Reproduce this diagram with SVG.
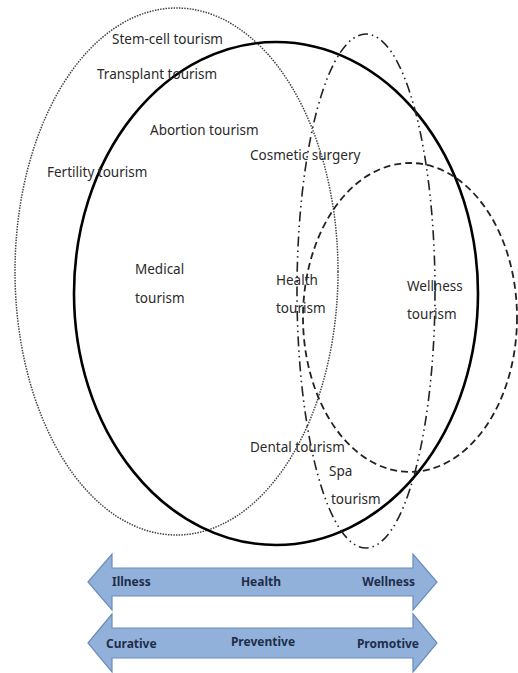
<svg xmlns="http://www.w3.org/2000/svg" width="518" height="673" viewBox="0 0 518 673">
<style>
.lbl{font-family:"Noto Sans","Liberation Sans",sans-serif;font-size:13.5px;fill:#2a2a2a}
.arrow{fill:#92b1da;stroke:#6a8cbb;stroke-width:1.2}
.atxt{font-family:"Noto Sans","Liberation Sans",sans-serif;font-size:12px;font-weight:bold;fill:#1f2d4a}
.e{fill:none}
</style>
<rect width="518" height="673" fill="#fff"/>
<g id="connectors">
<ellipse id="medical-ellipse" class="e" cx="176.5" cy="271.5" rx="161.5" ry="263.5" stroke="#444" stroke-width="1.5" stroke-dasharray="1.5 1.2"/>
<ellipse id="health-ellipse" class="e" cx="276" cy="293.5" rx="202" ry="251.5" stroke="#000" stroke-width="2.6"/>
<ellipse id="spa-ellipse" class="e" cx="366" cy="291" rx="69" ry="257" stroke="#222" stroke-width="1.6" stroke-dasharray="10 4 1.5 4 1.5 4"/>
<ellipse id="wellness-ellipse" class="e" cx="410" cy="317.5" rx="107" ry="154.5" stroke="#222" stroke-width="1.8" stroke-dasharray="7 4"/>
</g>
<g id="stem-cell"><text class="lbl" x="112" y="44">Stem-cell tourism</text></g>
<g id="transplant"><text class="lbl" x="97" y="79">Transplant tourism</text></g>
<g id="abortion"><text class="lbl" x="150" y="135">Abortion tourism</text></g>
<g id="cosmetic"><text class="lbl" x="250" y="160">Cosmetic surgery</text></g>
<g id="fertility"><text class="lbl" x="47" y="177">Fertility tourism</text></g>
<g id="medical"><text class="lbl" x="135" y="274">Medical</text><text class="lbl" x="135" y="303">tourism</text></g>
<g id="health"><text class="lbl" x="276" y="285">Health</text><text class="lbl" x="276" y="313">tourism</text></g>
<g id="wellness"><text class="lbl" x="407" y="291">Wellness</text><text class="lbl" x="407" y="319">tourism</text></g>
<g id="dental"><text class="lbl" x="250" y="452">Dental tourism</text></g>
<g id="spa"><text class="lbl" x="329" y="476">Spa</text><text class="lbl" x="331" y="504">tourism</text></g>
<g id="arrow-illness-wellness">
<polygon class="arrow" points="88,582 112,554 112,568 413,568 413,554 437,582 413,610 413,596 112,596 112,610"/>
<text class="atxt" x="112" y="586">Illness</text>
<text class="atxt" x="261" y="586" text-anchor="middle">Health</text>
<text class="atxt" x="415" y="586" text-anchor="end">Wellness</text>
</g>
<g id="arrow-curative-promotive">
<polygon class="arrow" points="88,643 112,614 112,628 413,628 413,614 437,643 413,672 413,658 112,658 112,672"/>
<text class="atxt" x="106" y="648">Curative</text>
<text class="atxt" x="263" y="646" text-anchor="middle">Preventive</text>
<text class="atxt" x="419" y="648" text-anchor="end">Promotive</text>
</g>
</svg>
